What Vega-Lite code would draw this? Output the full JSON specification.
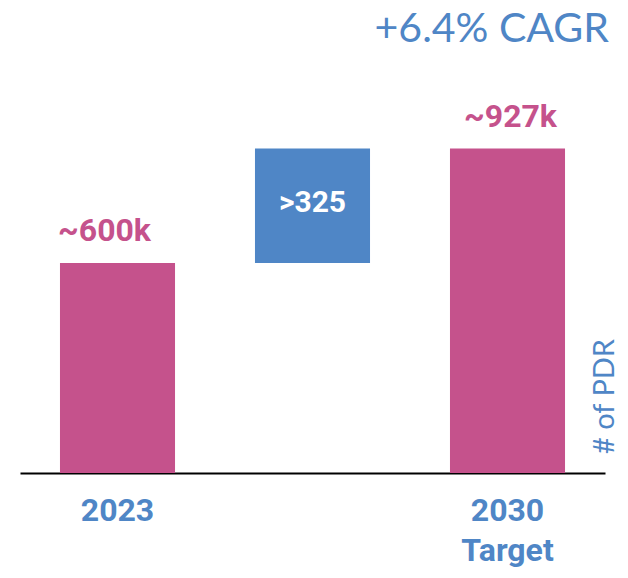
{
  "$schema": "https://vega.github.io/schema/vega-lite/v6.json",
  "width": 585,
  "height": 413,
  "autosize": {"type": "none"},
  "padding": {"left": 20, "top": 60, "right": 23, "bottom": 105},
  "background": "white",
  "config": {"view": {"stroke": null}},
  "title": {
    "text": "+6.4% CAGR",
    "anchor": "end",
    "font": "Lato",
    "fontSize": 41,
    "fontWeight": "normal",
    "color": "#4F86C6",
    "baseline": "alphabetic",
    "offset": -23,
    "dx": -10
  },
  "data": {
    "values": [
      {"category": "2023", "label": "~600k", "start": 0, "end": 600, "type": "actual"},
      {"category": "Growth", "label": ">325", "start": 600, "end": 927, "type": "growth"},
      {"category": "2030 Target", "label": "~927k", "start": 0, "end": 927, "type": "target"}
    ]
  },
  "encoding": {
    "x": {
      "field": "category",
      "type": "nominal",
      "sort": null,
      "scale": {"paddingInner": 0.41, "paddingOuter": 0.205},
      "axis": {
        "orient": "bottom",
        "title": null,
        "grid": false,
        "ticks": false,
        "domain": true,
        "domainColor": "#000000",
        "domainWidth": 2,
        "labelAngle": 0,
        "labelFont": "Roboto",
        "labelFontWeight": "bold",
        "labelFontSize": 32,
        "labelColor": "#4F86C6",
        "labelPadding": 22,
        "labelBaseline": "top",
        "labelLineHeight": 40,
        "labelExpr": "datum.value == '2030 Target' ? ['2030', 'Target'] : (datum.value == 'Growth' ? '' : datum.label)"
      }
    }
  },
  "layer": [
    {
      "mark": {"type": "bar"},
      "encoding": {
        "y": {
          "field": "start",
          "type": "quantitative",
          "scale": {"domain": [0, 1180], "nice": false, "zero": false},
          "axis": {
            "orient": "right",
            "labels": false,
            "ticks": false,
            "domain": false,
            "grid": false,
            "title": "# of PDR",
            "titleAngle": 270,
            "titleFont": "Lato",
            "titleFontSize": 29,
            "titleFontWeight": "normal",
            "titleColor": "#4F86C6",
            "titleX": 8,
            "titleY": 336,
            "titleAlign": "center",
            "titleBaseline": "alphabetic"
          }
        },
        "y2": {"field": "end"},
        "color": {
          "field": "type",
          "type": "nominal",
          "scale": {"domain": ["actual", "growth", "target"], "range": ["#C5528C", "#4F86C6", "#C5528C"]},
          "legend": null
        }
      }
    },
    {
      "transform": [{"filter": "datum.type == 'actual'"}],
      "mark": {"type": "text", "font": "Roboto", "fontWeight": "bold", "fontSize": 32, "color": "#C5528C", "baseline": "alphabetic", "align": "center", "dy": -22, "dx": -13},
      "encoding": {
        "y": {"field": "end", "type": "quantitative"},
        "text": {"field": "label"}
      }
    },
    {
      "transform": [{"filter": "datum.type == 'target'"}],
      "mark": {"type": "text", "font": "Roboto", "fontWeight": "bold", "fontSize": 32, "color": "#C5528C", "baseline": "alphabetic", "align": "center", "dy": -22, "dx": 3},
      "encoding": {
        "y": {"field": "end", "type": "quantitative"},
        "text": {"field": "label"}
      }
    },
    {
      "transform": [{"filter": "datum.type == 'growth'"}],
      "mark": {"type": "text", "font": "Roboto", "fontWeight": "bold", "fontSize": 30, "color": "#FFFFFF", "baseline": "alphabetic", "align": "center", "dy": 63},
      "encoding": {
        "y": {"field": "end", "type": "quantitative"},
        "text": {"field": "label"}
      }
    }
  ]
}
